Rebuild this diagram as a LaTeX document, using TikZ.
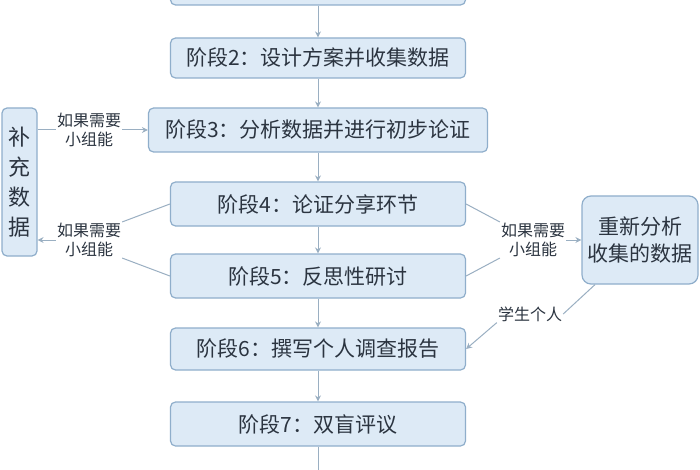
\documentclass[tikz,border=0pt]{standalone}
\usepackage{fontspec}
\setmainfont{Noto Sans CJK SC}
\usetikzlibrary{arrows.meta}
\definecolor{bfill}{HTML}{DDEAF6}
\definecolor{bline}{HTML}{8FAECB}
\definecolor{txt}{HTML}{2B3440}
\definecolor{arr}{HTML}{9AAFC2}
\begin{document}
\begin{tikzpicture}[x=1pt,y=-1pt,
 box/.style={draw=bline,fill=bfill,rounded corners=5pt,line width=1.2pt,text=txt,font=\fontsize{21}{24}\selectfont,inner sep=0pt},
 lbl/.style={text=txt,font=\fontsize{16}{19}\selectfont,align=center,inner sep=1pt},
 con/.style={draw=arr,line width=1pt},
 ar/.style={con,-{Stealth[length=6pt,width=6pt]}}]
\useasboundingbox (0,0) rectangle (700,470);
\fill[white] (0,0) rectangle (700,470);
\begin{scope}
\clip (0,0) rectangle (700,470);
\node[box,minimum width=295pt,minimum height=30pt] (s1) at (318,-10) {};
\end{scope}
\node[box,minimum width=295pt,minimum height=40pt] (s2) at (318,58) {阶段2：设计方案并收集数据};
\node[box,minimum width=339pt,minimum height=44pt] (s3) at (318,130) {阶段3：分析数据并进行初步论证};
\node[box,minimum width=295pt,minimum height=44pt] (s4) at (318,204) {阶段4：论证分享环节};
\node[box,minimum width=295pt,minimum height=44pt] (s5) at (318,276) {阶段5：反思性研讨};
\node[box,minimum width=295pt,minimum height=42pt] (s6) at (318,349) {阶段6：撰写个人调查报告};
\node[box,minimum width=295pt,minimum height=44pt] (s7) at (318,424) {阶段7：双盲评议};
\coordinate (bot) at (318,470);
\node[box,minimum width=35pt,minimum height=148pt,align=center,font=\fontsize{22}{30}\selectfont] (L) at (19.5,182) {补\\充\\数\\据};
\node[box,minimum width=116pt,minimum height=88pt,align=center,font=\fontsize{21}{27}\selectfont,rounded corners=9pt] (R) at (640,240) {重新分析\\收集的数据};
\node[lbl] (l1) at (89,130) {如果需要\\小组能};
\node[lbl] (l2) at (89,240) {如果需要\\小组能};
\node[lbl] (l3) at (533,240) {如果需要\\小组能};
\node[lbl] (l4) at (530,314) {学生个人};
\foreach \a/\b in {s1/s2,s2/s3,s3/s4,s4/s5,s5/s6,s6/s7} \draw[ar] (\a.south) -- (\b.north);
\draw[con] (s7.south) -- (bot);
\draw[con] (L.east |- l1) -- (l1.west);
\draw[ar] (l1.east) -- (s3.west);
\draw[con] (s4.west) -- (l2.north east);
\draw[con] (s5.west) -- (l2.south east);
\draw[ar] (l2.west) -- (L.east |- l2);
\draw[con] (s4.east) -- (l3.north west);
\draw[con] (s5.east) -- (l3.south west);
\draw[ar] (l3.east) -- (R.west);
\draw[con] (R.south) ++(-45,0) coordinate (rs) -- (l4.east);
\draw[ar] (l4.south west) -- (s6.east);
\end{tikzpicture}
\end{document}
